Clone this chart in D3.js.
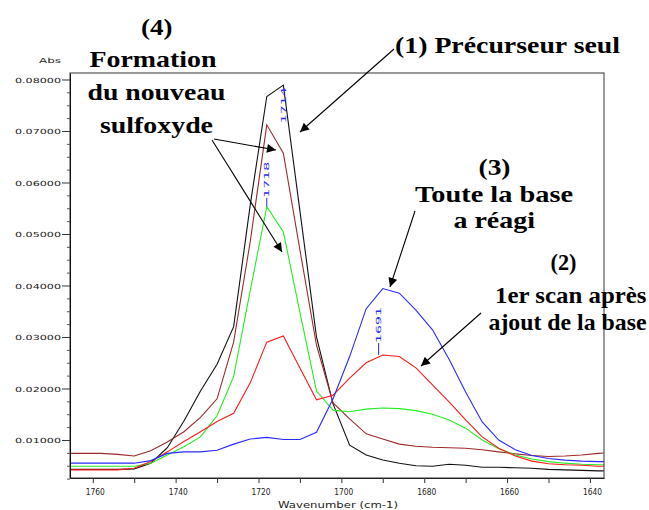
<!DOCTYPE html>
<html>
<head>
<meta charset="utf-8">
<script src="https://cdn.jsdelivr.net/npm/d3@7"></script>
<style>
  html, body { margin: 0; padding: 0; background: #fff; }
  svg { display: block; }
  .ann { font-family: 'Liberation Serif', 'Times New Roman', 'DejaVu Serif', serif; font-weight: bold; }
</style>
</head>
<body>
<svg id="chart" width="649" height="510"></svg>
<script>
// ---------------- data ----------------
const wavenumbers = [1766,1762,1758,1754,1750,1746,1742,1738,1734,1730,1726,1722,1718,1714,1710,1706,1702,1698,1694,1690,1686,1682,1678,1674,1670,1666,1662,1658,1654,1650,1646,1642,1638,1636];

const precurseur = [0.0043,0.0043,0.0043,0.0043,0.0044,0.0055,0.0085,0.0137,0.0195,0.0247,0.0320,0.0556,0.0767,0.0789,0.0545,0.0300,0.0170,0.0090,0.0071,0.0061,0.0055,0.0050,0.0049,0.0053,0.0051,0.0047,0.0047,0.0046,0.0045,0.0043,0.0042,0.0041,0.0040,0.0040];
const sulfoxydeA  = [0.0074,0.0074,0.0074,0.0072,0.0069,0.0079,0.0096,0.0116,0.0144,0.0180,0.0290,0.0485,0.0712,0.0657,0.0469,0.0284,0.0172,0.0141,0.0112,0.0102,0.0092,0.0088,0.0086,0.0085,0.0084,0.0081,0.0077,0.0073,0.0070,0.0068,0.0069,0.0071,0.0074,0.0075];
const sulfoxydeB  = [0.0049,0.0049,0.0049,0.0049,0.0049,0.0055,0.0071,0.0087,0.0106,0.0147,0.0223,0.0390,0.0553,0.0504,0.0348,0.0195,0.0158,0.0155,0.0160,0.0162,0.0161,0.0157,0.0150,0.0139,0.0123,0.0100,0.0083,0.0071,0.0063,0.0058,0.0055,0.0053,0.0052,0.0052];
const premierScan = [0.0042,0.0042,0.0042,0.0042,0.0045,0.0058,0.0077,0.0097,0.0116,0.0136,0.0152,0.0211,0.0290,0.0302,0.0240,0.0178,0.0187,0.0220,0.0250,0.0265,0.0262,0.0240,0.0207,0.0174,0.0139,0.0106,0.0084,0.0069,0.0059,0.0054,0.0052,0.0051,0.0049,0.0049];
const baseReagi   = [0.0055,0.0055,0.0055,0.0055,0.0055,0.0060,0.0074,0.0077,0.0077,0.0080,0.0092,0.0102,0.0105,0.0101,0.0101,0.0115,0.0180,0.0262,0.0355,0.0394,0.0385,0.0352,0.0314,0.0257,0.0193,0.0135,0.0100,0.0081,0.0070,0.0064,0.0061,0.0059,0.0058,0.0058];

const seriesNames  = ["precurseur","sulfoxydeA","sulfoxydeB","premierScan","baseReagi"];
const seriesColors = ["#111111","#9b2a2a","#22ee22","#ff1a1a","#2a2aff"];
const seriesValues = [precurseur, sulfoxydeA, sulfoxydeB, premierScan, baseReagi];

const xMajorTicks = [1760,1740,1720,1700,1680,1660,1640];
const xMinorTicks = [1750,1730,1710,1690,1670,1650];
const yMajorTicks = [0.01,0.02,0.03,0.04,0.05,0.06,0.07,0.08];

const peakLabels = ["1714","1718","1691"];
const peakWn     = [1714, 1718, 1691];
const peakAbs    = [0.0789, 0.0553, 0.0265];
const peakGap    = [-38, 9, 12];

// ---------------- layout ----------------
const svg = d3.select("#chart");
const L = 70, R = 604, T = 73, B = 478;

const x = d3.scaleLinear().domain([1765.5, 1636.6]).range([L, R]);
const y = d3.scaleLinear().domain([0.002621, 0.081262]).range([B, T]);

svg.append("rect").attr("width", 649).attr("height", 510).attr("fill", "#fff");

const defs = svg.append("defs");
defs.append("clipPath").attr("id", "plotclip")
  .append("rect").attr("x", L).attr("y", T).attr("width", R - L).attr("height", B - T);

// curves
const line = d3.line()
  .x((d, i) => x(wavenumbers[i]))
  .y(d => y(d))
  .curve(d3.curveLinear);

const curves = svg.append("g").attr("clip-path", "url(#plotclip)");
seriesValues.forEach((vals, k) => {
  curves.append("path")
    .datum(vals)
    .attr("class", seriesNames[k])
    .attr("fill", "none")
    .attr("stroke", seriesColors[k])
    .attr("stroke-width", 1.1)
    .attr("d", line);
});

// frame
svg.append("rect")
  .attr("x", L).attr("y", T).attr("width", R - L).attr("height", B - T)
  .attr("fill", "none").attr("stroke", "#555").attr("stroke-width", 1.2);

// x axis
const gx = svg.append("g").attr("transform", `translate(0,${B})`)
  .call(d3.axisBottom(x).tickValues(xMajorTicks.concat(xMinorTicks)).tickSize(5).tickSizeOuter(0)
        .tickFormat(d => xMajorTicks.includes(d) ? d3.format("d")(d) : ""));
gx.select(".domain").attr("stroke", "#222");
gx.selectAll(".tick line").attr("stroke", "#333");
gx.selectAll(".tick text")
  .attr("y", 17).attr("dy", 0).attr("dx", 2)
  .attr("font-family", "DejaVu Sans").attr("font-size", 8).attr("fill", "#222")
  .filter(function () { return this.textContent !== ""; })
  .attr("textLength", 19).attr("lengthAdjust", "spacingAndGlyphs");

// y axis majors
const gy = svg.append("g").attr("transform", `translate(${L},0)`)
  .call(d3.axisLeft(y).tickValues(yMajorTicks).tickSize(8).tickPadding(1).tickSizeOuter(0)
        .tickFormat(d3.format(".5f")));
gy.select(".domain").attr("stroke", "#111");
gy.selectAll(".tick line").attr("stroke", "#333");
gy.selectAll(".tick text")
  .attr("font-family", "DejaVu Sans").attr("font-size", 7).attr("fill", "#222")
  .attr("dy", "0.36em")
  .attr("textLength", 46).attr("lengthAdjust", "spacingAndGlyphs");

// y axis minors
const yMinor = d3.range(0.0025, 0.0801, 0.0025).filter(v => Math.abs(v * 100 - Math.round(v * 100)) > 1e-6);
const gym = svg.append("g").attr("transform", `translate(${L},0)`)
  .call(d3.axisLeft(y).tickValues(yMinor).tickSize(3).tickFormat(""));
gym.select(".domain").remove();
gym.selectAll(".tick line").attr("stroke", "#555");

// axis titles
svg.append("text").text("Abs")
  .attr("x", 39).attr("y", 63)
  .attr("font-family", "DejaVu Sans").attr("font-size", 7).attr("fill", "#222")
  .attr("textLength", 22).attr("lengthAdjust", "spacingAndGlyphs");
svg.append("text").text("Wavenumber (cm-1)")
  .attr("x", 278).attr("y", 507.5)
  .attr("font-family", "DejaVu Sans").attr("font-size", 8.5).attr("fill", "#222")
  .attr("textLength", 120).attr("lengthAdjust", "spacingAndGlyphs");

// peak labels
peakLabels.forEach((lab, i) => {
  const px = x(peakWn[i]);
  const py = y(peakAbs[i]);
  const gap = peakGap[i];
  if (gap > 0) {
    svg.append("line")
      .attr("x1", px).attr("x2", px).attr("y1", py - gap).attr("y2", py)
      .attr("stroke", "#2a2aff").attr("stroke-width", 1);
  }
  svg.append("text").text(lab)
    .attr("transform", `translate(${px},${py - gap}) rotate(-90)`)
    .attr("dy", "0.35em")
    .attr("font-family", "DejaVu Sans").attr("font-size", 7).attr("fill", "#2a2aff")
    .attr("textLength", 36).attr("lengthAdjust", "spacingAndGlyphs");
});

// annotations
const annTexts = ["(4)","Formation","du nouveau","sulfoxyde","(1) Précurseur seul","(3)","Toute la base","a réagi","(2)","1er scan après","ajout de la base"];
const annX     = [141, 89.5, 87.5, 100, 395, 478.5, 415, 453.5, 550.5, 495, 488.5];
const annY     = [34.5, 66.7, 100, 133.3, 53.3, 175, 201.7, 228, 270, 302.7, 330];
const annW     = [31.5, 127, 138, 113, 225, 32, 158, 81.5, 26, 151.5, 158];

annTexts.forEach((t, i) => {
  svg.append("text").text(t)
    .attr("class", "ann")
    .attr("x", annX[i]).attr("y", annY[i])
    .attr("font-size", 24).attr("fill", "#000")
    .attr("textLength", annW[i]).attr("lengthAdjust", "spacingAndGlyphs");
});

// arrows
defs.append("marker")
  .attr("id", "arrow").attr("viewBox", "0 0 10 10")
  .attr("refX", 10).attr("refY", 5)
  .attr("markerWidth", 11).attr("markerHeight", 9)
  .attr("markerUnits", "userSpaceOnUse")
  .attr("orient", "auto")
  .append("path").attr("d", "M0,0 L10,5 L0,10 Z").attr("fill", "#000");

const arrowStart = [[394,49],[214,139],[212,140],[415,211],[481,313]];
const arrowEnd   = [[300,132],[276,150],[282,252],[390,287],[421,366]];
arrowStart.forEach((s, i) => {
  svg.append("line")
    .attr("x1", s[0]).attr("y1", s[1]).attr("x2", arrowEnd[i][0]).attr("y2", arrowEnd[i][1])
    .attr("stroke", "#000").attr("stroke-width", 1.1)
    .attr("marker-end", "url(#arrow)");
});
</script>
</body>
</html>
